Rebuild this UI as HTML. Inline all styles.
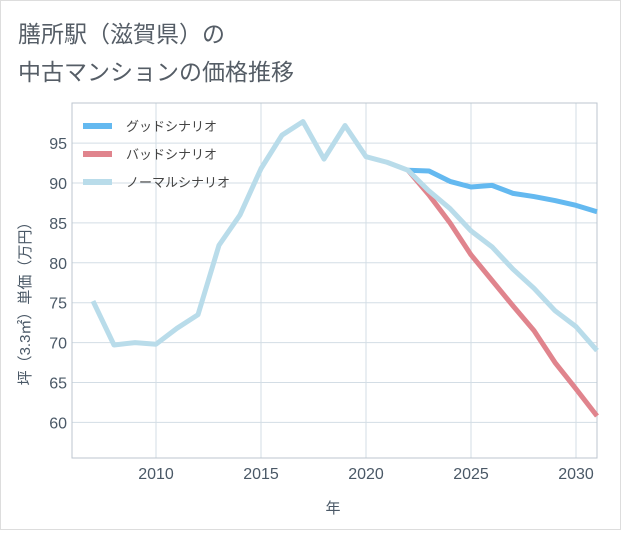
<!DOCTYPE html>
<html><head><meta charset="utf-8"><style>
body{margin:0;background:#fff;}
svg text{font-family:"Liberation Sans","Noto Sans CJK JP",sans-serif;}
</style></head><body>
<svg width="621" height="530" xmlns="http://www.w3.org/2000/svg">
<rect x="0.5" y="0.5" width="620" height="529" fill="#fff" stroke="#ddd"/>
<text x="18" y="42" font-size="23" fill="#555d66">膳所駅（滋賀県）の</text>
<text x="18" y="80" font-size="23" fill="#555d66">中古マンションの価格推移</text>
<g id="grid"></g>
<rect x="72" y="103" width="525" height="355" fill="none" stroke="#bcc6cf"/>
<g id="series"></g>
<g id="axes"></g>
<text x="333" y="513" font-size="15" fill="#4a5866" text-anchor="middle">年</text>
<text transform="translate(30,300) rotate(-90)" font-size="15" fill="#4a5866" text-anchor="middle">坪（3.3㎡）単価（万円）</text>
<g>
<line x1="83" y1="126" x2="112" y2="126" stroke="#64b9f0" stroke-width="6"/>
<text x="126" y="131" font-size="13" fill="#444">グッドシナリオ</text>
<line x1="83" y1="154" x2="112" y2="154" stroke="#e0848d" stroke-width="6"/>
<text x="126" y="159" font-size="13" fill="#444">バッドシナリオ</text>
<line x1="83" y1="182" x2="112" y2="182" stroke="#b9dcea" stroke-width="6"/>
<text x="126" y="187" font-size="13" fill="#444">ノーマルシナリオ</text>
</g>
</svg>
<script>
const years=[2007,2008,2009,2010,2011,2012,2013,2014,2015,2016,2017,2018,2019,2020,2021,2022,2023,2024,2025,2026,2027,2028,2029,2030,2031];
const normal=[75.2,69.7,70.0,69.8,71.8,73.5,82.2,86,91.8,96,97.7,93,97.2,93.3,92.6,91.6,89,86.8,84,82,79.2,76.8,74,72,69];
const fcYears=[2022,2023,2024,2025,2026,2027,2028,2029,2030,2031];
const good=[91.6,91.5,90.2,89.5,89.7,88.7,88.3,87.8,87.2,86.4];
const bad=[91.6,88.5,85,81,77.8,74.6,71.5,67.5,64.2,60.8];
const xTicks=[2010,2015,2020,2025,2030];
const yTicks=[60,65,70,75,80,85,90,95];
const NS="http://www.w3.org/2000/svg";
const x=v=>156+(v-2010)*21;
const y=v=>183-(v-90)*7.98;
const grid=document.getElementById('grid'),axes=document.getElementById('axes'),ser=document.getElementById('series');
function mk(tag,attrs,parent){const e=document.createElementNS(NS,tag);for(const k in attrs)e.setAttribute(k,attrs[k]);parent.appendChild(e);return e;}
xTicks.forEach(t=>{
 const l=mk('line',{x1:x(t),x2:x(t),y1:103,y2:458,stroke:'#d3dde5'},grid);
 
 
 const tx=mk('text',{x:x(t),y:479,'font-size':16,fill:'#4a5866','text-anchor':'middle'},axes);
 tx.textContent=t;
 
 
});
yTicks.forEach(t=>{
 const l=mk('line',{x1:72,x2:597,y1:y(t),y2:y(t),stroke:'#d3dde5'},grid);
 
 
 const tx=mk('text',{x:67,y:y(t)+6,'font-size':16,fill:'#4a5866','text-anchor':'end'},axes);
 tx.textContent=t;
 
 
});
function line(xs,vs,color,name){
 const p=mk('polyline',{points:xs.map((v,i)=>x(v)+','+y(vs[i])).join(' '),fill:'none',stroke:color,'stroke-width':5,'stroke-linejoin':'round'},ser);
 
 
}
line(fcYears,good,'#64b9f0','good-scenario-line');
line(fcYears,bad,'#e0848d','bad-scenario-line');
line(years,normal,'#b9dcea','normal-scenario-line');
</script>
</body></html>
